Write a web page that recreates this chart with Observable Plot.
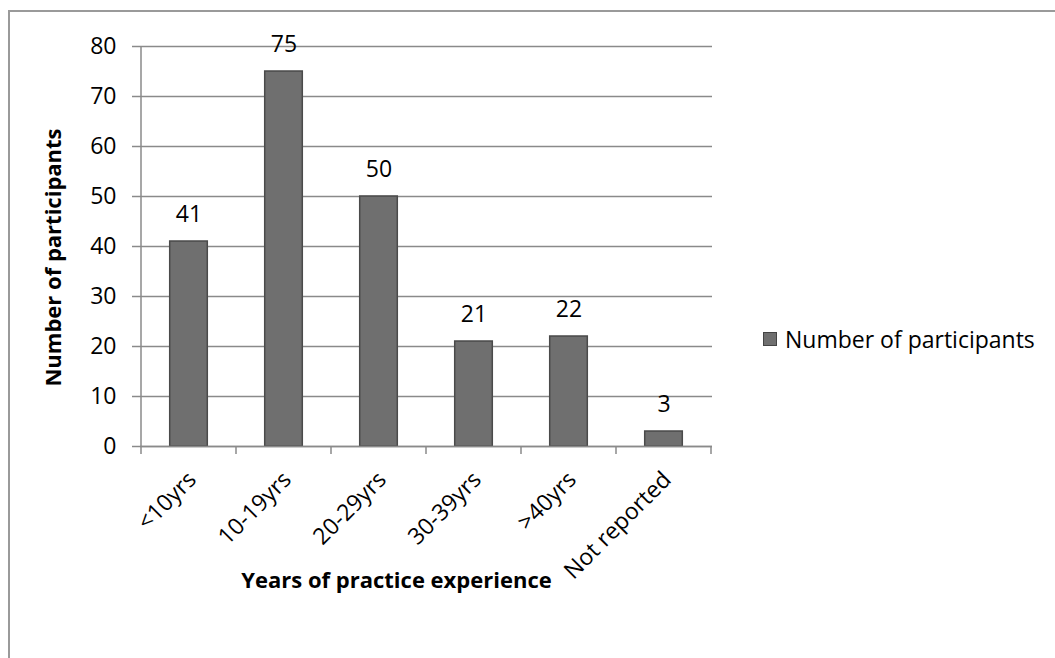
<!DOCTYPE html>
<html>
<head>
<meta charset="utf-8">
<script src="https://cdn.jsdelivr.net/npm/d3@7"></script>
<script src="https://cdn.jsdelivr.net/npm/@observablehq/plot@0.6"></script>
<style>
  body { margin: 0; background: #fff; }
  #wrap { position: relative; width: 1055px; height: 658px; overflow: hidden; font-family: "Open Sans", sans-serif; }
  #frame { position: absolute; left: 8px; top: 10px; width: 1100px; height: 700px;
           border-top: 2px solid #9a9a9a; border-left: 2px solid #9a9a9a; pointer-events: none; }
  #chart { position: absolute; left: 0; top: 0; }
  #legend { position: absolute; left: 763px; top: 324px; display: flex; align-items: center;
            font-size: 23px; line-height: 30px; color: #000; }
  #legend .swatch { width: 12px; height: 12px; background: #6f6f6f; border: 1px solid #444; margin-right: 8px; }
</style>
</head>
<body>
<div id="wrap">
  <div id="chart"></div>
  <div id="frame"></div>
  <div id="legend"><span class="swatch"></span><span id="legend-label"></span></div>
</div>
<script>
// Participants by years of practice experience
const categories = ["<10yrs", "10-19yrs", "20-29yrs", "30-39yrs", ">40yrs", "Not reported"];
const participants = [41, 75, 50, 21, 22, 3];
const yTicks = [0, 10, 20, 30, 40, 50, 60, 70, 80];
const seriesName = "Number of participants";
const xTitle = "Years of practice experience";
const yTitle = "Number of participants";

const data = categories.map((category, i) => ({category, value: participants[i]}));

const lineColor = "#8a8a8a";
const barFill = "#6f6f6f";

// Category boundary ticks below the baseline, plus the vertical value axis line
function boundaryTicks(index, scales) {
  const {x, y} = scales;
  const bw = x.bandwidth();
  const edges = categories.map((c) => x(c)).concat([x(categories[categories.length - 1]) + bw]);
  const y0 = y(0);
  const g = d3.create("svg:g").attr("stroke", lineColor).attr("stroke-width", 1.5);
  g.selectAll("line.tick").data(edges).join("line")
    .attr("class", "tick")
    .attr("x1", (d) => d).attr("x2", (d) => d)
    .attr("y1", y0).attr("y2", y0 + 8);
  g.append("line")
    .attr("x1", edges[0]).attr("x2", edges[0])
    .attr("y1", y(yTicks[yTicks.length - 1])).attr("y2", y0);
  return g.node();
}

const chart = Plot.plot({
  width: 1055,
  height: 658,
  marginLeft: 140,
  marginRight: 343,
  marginTop: 46,
  marginBottom: 212,
  style: {fontFamily: "'Open Sans', sans-serif", fontSize: "23px", color: "#000", background: "transparent"},
  x: {type: "band", domain: categories, padding: 0, axis: null},
  y: {domain: [0, 80], axis: null},
  marks: [
    Plot.gridY(yTicks, {stroke: lineColor, strokeOpacity: 1, strokeWidth: 1.5}),
    Plot.axisY(yTicks, {tickSize: 8, tickPadding: 16, stroke: lineColor, strokeWidth: 1.5, fill: "#000", label: null, tickFormat: (d) => String(d)}),
    Plot.barY(data, {x: "category", y: "value", fill: barFill, stroke: "#4a4a4a", strokeWidth: 1.5, insetLeft: 28.7, insetRight: 28.7}),
    Plot.ruleY([0], {stroke: lineColor, strokeWidth: 1.5}),
    boundaryTicks,
    Plot.text(data, {x: "category", y: "value", text: (d) => String(d.value), dy: -27, fill: "#000"}),
    Plot.text(categories, {x: (d) => d, frameAnchor: "bottom", text: (d) => d, rotate: -45, textAnchor: "end", lineAnchor: "top", dx: -3, dy: 23, fill: "#000"}),
    Plot.text([xTitle], {frameAnchor: "bottom", text: (d) => d, textAnchor: "middle", dx: -30, dy: 141, fontSize: 22, fontWeight: "bold", fill: "#000"}),
    Plot.text([yTitle], {frameAnchor: "left", text: (d) => d, textAnchor: "middle", rotate: -90, dx: -87, dy: 11, fontSize: 22, fontWeight: "bold", fill: "#000"})
  ]
});

document.getElementById("chart").appendChild(chart);
document.getElementById("legend-label").textContent = seriesName;
</script>
</body>
</html>
